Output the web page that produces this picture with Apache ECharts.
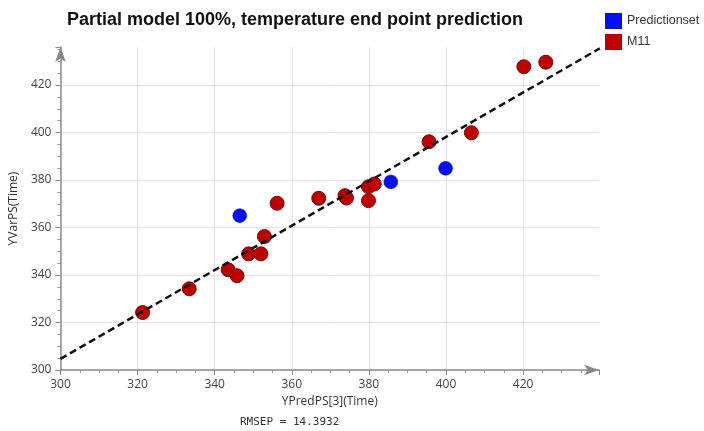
<!DOCTYPE html>
<html>
<head>
<meta charset="utf-8">
<script src="https://cdn.jsdelivr.net/npm/echarts@6/dist/echarts.min.js"></script>
<style>html,body{margin:0;padding:0;background:#fff;}#c{width:704px;height:431px;}</style>
</head>
<body>
<div id="c"></div>
<script>
// M11 (training) points: predicted (x) vs observed (y)
const m11X = [321.3, 333.4, 343.5, 345.8, 348.8, 352.0, 352.9, 356.2, 367.0, 373.8, 374.2, 379.9, 379.9, 381.4, 395.6, 406.6, 420.2, 425.9];
const m11Y = [324.2, 334.2, 342.2, 339.7, 348.9, 348.9, 356.2, 370.2, 372.3, 373.4, 372.4, 371.3, 377.2, 378.3, 396.1, 399.9, 427.7, 429.6];
// Predictionset points
const predX = [346.5, 385.7, 399.9];
const predY = [365.0, 379.2, 384.9];
// Fit line end points
const fitX = [300, 439.9];
const fitY = [304.7, 435.4];

const titleText = 'Partial model 100%, temperature end point prediction';
const xName = 'YPredPS[3](Time)';
const yName = 'YVarPS(Time)';
const rmsepText = 'RMSEP = 14.3932';

const zip = (a, b) => a.map((v, i) => [v, b[i]]);

const axisCommon = {
  type: 'value',
  min: 300,
  interval: 20,
  nameLocation: 'middle',
  nameTextStyle: { fontSize: 12, color: '#333', fontFamily: 'Open Sans' },
  axisLine: { show: true, symbol: ['none', 'arrow'], symbolSize: [8, 15], lineStyle: { color: '#888', width: 1.5 } },
  axisTick: { show: true, inside: false, length: 5, lineStyle: { color: '#888' } },
  minorTick: { show: true, splitNumber: 4, length: 3, lineStyle: { color: '#999' } },
  axisLabel: { fontSize: 12, color: '#444', fontFamily: 'Open Sans', showMaxLabel: false, margin: 9 },
  splitLine: { show: true, showMinLine: false, showMaxLine: false, lineStyle: { color: '#e4e4e4', width: 1 } }
};

const chart = echarts.init(document.getElementById('c'), null, { renderer: 'canvas' });
chart.setOption({
  animation: false,
  backgroundColor: '#fff',
  title: {
    text: titleText, left: 62, top: 6,
    textStyle: { fontSize: 18, fontWeight: 'bold', color: '#111', fontFamily: 'Liberation Sans' }
  },
  legend: {
    orient: 'vertical', left: 600, top: 8, icon: 'rect', itemWidth: 17, itemHeight: 16, itemGap: 5,
    itemStyle: { borderWidth: 0 },
    textStyle: { fontSize: 12.5, color: '#333', fontFamily: 'Liberation Sans' },
    data: ['Predictionset', 'M11']
  },
  grid: { left: 58, right: 105, top: 47, bottom: 61 },
  xAxis: Object.assign({}, axisCommon, { max: 439.7, name: xName, nameGap: 26 }),
  yAxis: Object.assign({}, axisCommon, { max: 436, name: yName, nameGap: 32 }),
  graphic: [{
    type: 'text', left: 240, top: 417,
    style: { text: rmsepText, fontSize: 11, fontFamily: 'DejaVu Sans Mono', fill: '#333' }
  }],
  series: [
    {
      name: 'Predictionset', type: 'scatter', symbolSize: 14, z: 3,
      itemStyle: { color: '#0010f0', borderColor: '#1a1ab0', borderWidth: 0.5, opacity: 1 },
      data: zip(predX, predY)
    },
    {
      name: 'M11', type: 'scatter', symbolSize: 14, z: 3,
      itemStyle: { color: '#c00000', borderColor: '#6e1010', borderWidth: 1, opacity: 1 },
      data: zip(m11X, m11Y)
    },
    {
      name: 'fit', type: 'line', clip: false, symbol: 'none', z: 4, silent: true,
      lineStyle: { color: '#111', width: 2.5, type: [7, 4] },
      data: zip(fitX, fitY)
    }
  ]
});
</script>
</body>
</html>
